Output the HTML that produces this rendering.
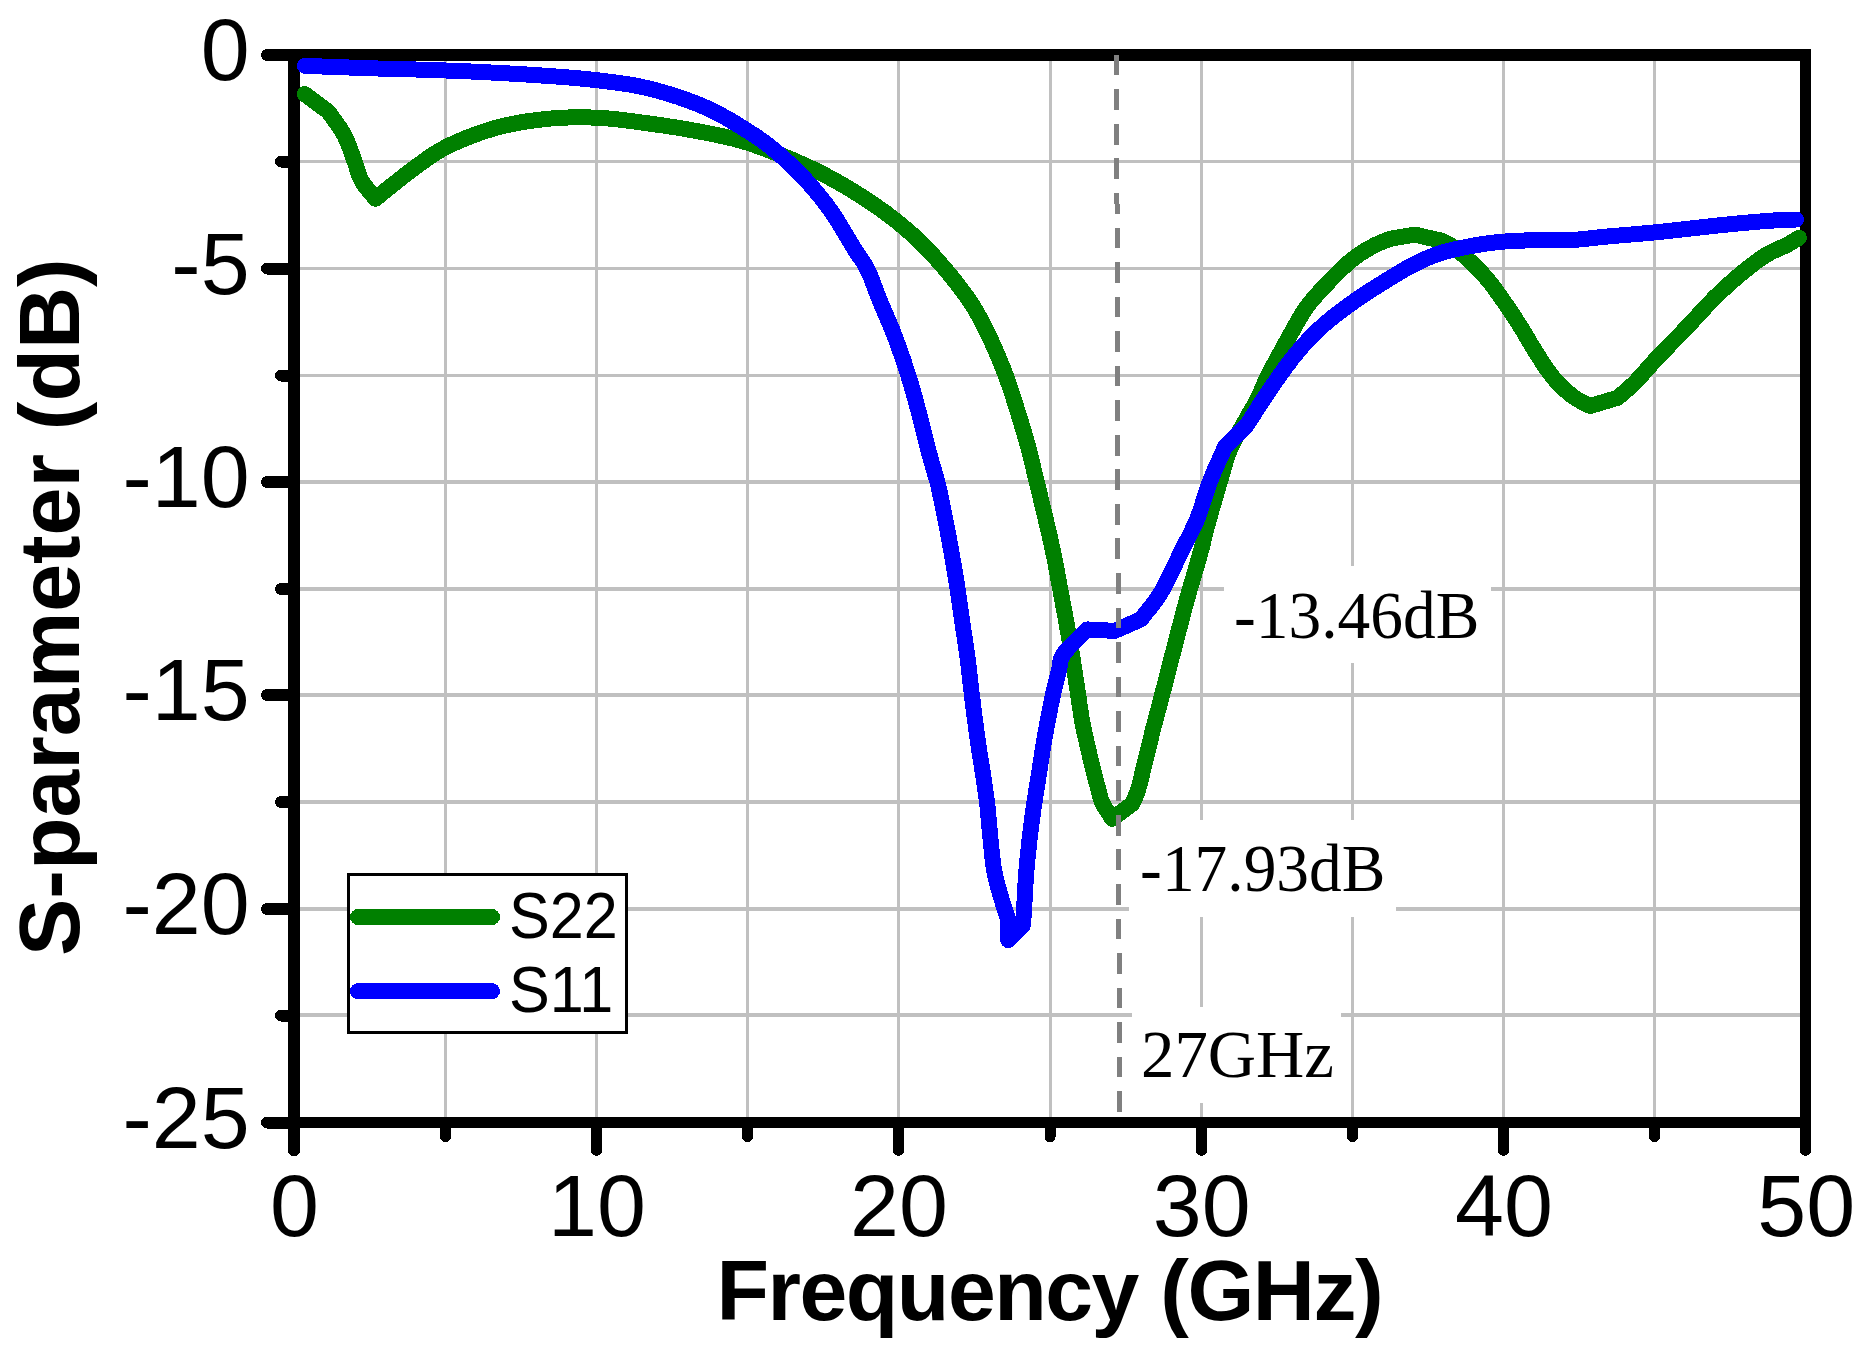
<!DOCTYPE html>
<html lang="en"><head><meta charset="utf-8"><title>S-parameter vs Frequency</title>
<style>html,body{margin:0;padding:0;background:#fff}svg{display:block}.t{font-family:"Liberation Sans",Arial,sans-serif;font-size:88px;fill:#000}.b{font-family:"Liberation Sans",Arial,sans-serif;font-size:86px;font-weight:bold;fill:#000}.s{font-family:"Liberation Serif","Times New Roman",serif;font-size:68px;fill:#000}.l{font-family:"Liberation Sans",Arial,sans-serif;font-size:64px;fill:#000}</style></head><body>
<svg width="1863" height="1353" viewBox="0 0 1863 1353" shape-rendering="crispEdges">
<rect width="1863" height="1353" fill="#fff"/>
<g stroke="#c0c0c0" stroke-width="3" fill="none">
<line x1="445.5" y1="55" x2="445.5" y2="1122"/>
<line x1="596.5" y1="55" x2="596.5" y2="1122"/>
<line x1="747.5" y1="55" x2="747.5" y2="1122"/>
<line x1="898.5" y1="55" x2="898.5" y2="1122"/>
<line x1="1050" y1="55" x2="1050" y2="1122"/>
<line x1="1201.5" y1="55" x2="1201.5" y2="1122"/>
<line x1="1352.5" y1="55" x2="1352.5" y2="1122"/>
<line x1="1503.5" y1="55" x2="1503.5" y2="1122"/>
<line x1="1654.5" y1="55" x2="1654.5" y2="1122"/>
<line x1="294" y1="161.5" x2="1805" y2="161.5" stroke-width="3"/>
<line x1="294" y1="268.5" x2="1805" y2="268.5" stroke-width="3"/>
<line x1="294" y1="375.5" x2="1805" y2="375.5" stroke-width="3"/>
<line x1="294" y1="482" x2="1805" y2="482" stroke-width="4"/>
<line x1="294" y1="589" x2="1805" y2="589" stroke-width="4"/>
<line x1="294" y1="695" x2="1805" y2="695" stroke-width="4"/>
<line x1="294" y1="802" x2="1805" y2="802" stroke-width="4"/>
<line x1="294" y1="909" x2="1805" y2="909" stroke-width="4"/>
<line x1="294" y1="1015" x2="1805" y2="1015" stroke-width="4"/>
</g>
<g fill="#fff">
<rect x="1224" y="566" width="267" height="97.3"/>
<rect x="1129" y="819.5" width="267" height="97.2"/>
<rect x="1132" y="1006.5" width="209" height="96.8"/>
</g>
<rect x="348.5" y="874.4" width="277.8" height="157.9" fill="#fff" stroke="#000" stroke-width="3.3"/>
<g stroke="#000" fill="none">
<line x1="288" y1="55" x2="1811" y2="55" stroke-width="12"/>
<line x1="294" y1="49" x2="294" y2="1128" stroke-width="12"/>
<line x1="1805.5" y1="49" x2="1805.5" y2="1128" stroke-width="11"/>
<line x1="288" y1="1122.5" x2="1811" y2="1122.5" stroke-width="11"/>
</g>
<g stroke="#000" fill="none" stroke-linecap="round">
<line x1="267" y1="55" x2="290" y2="55" stroke-width="12"/>
<line x1="281" y1="161.5" x2="290" y2="161.5" stroke-width="12"/>
<line x1="267" y1="268.5" x2="290" y2="268.5" stroke-width="12"/>
<line x1="281" y1="375.5" x2="290" y2="375.5" stroke-width="12"/>
<line x1="267" y1="482" x2="290" y2="482" stroke-width="12"/>
<line x1="281" y1="589" x2="290" y2="589" stroke-width="12"/>
<line x1="267" y1="695" x2="290" y2="695" stroke-width="12"/>
<line x1="281" y1="802" x2="290" y2="802" stroke-width="12"/>
<line x1="267" y1="909" x2="290" y2="909" stroke-width="12"/>
<line x1="281" y1="1015.5" x2="290" y2="1015.5" stroke-width="12"/>
<line x1="267" y1="1122.5" x2="290" y2="1122.5" stroke-width="12"/>
<line x1="294" y1="1126" x2="294" y2="1150.3" stroke-width="12"/>
<line x1="445.5" y1="1126" x2="445.5" y2="1136.7" stroke-width="11"/>
<line x1="596.5" y1="1126" x2="596.5" y2="1150.3" stroke-width="11"/>
<line x1="747.5" y1="1126" x2="747.5" y2="1136.7" stroke-width="11"/>
<line x1="898.5" y1="1126" x2="898.5" y2="1150.3" stroke-width="11"/>
<line x1="1050" y1="1126" x2="1050" y2="1136.7" stroke-width="11"/>
<line x1="1201.5" y1="1126" x2="1201.5" y2="1150.3" stroke-width="11"/>
<line x1="1352.5" y1="1126" x2="1352.5" y2="1136.7" stroke-width="11"/>
<line x1="1503.5" y1="1126" x2="1503.5" y2="1150.3" stroke-width="11"/>
<line x1="1654.5" y1="1126" x2="1654.5" y2="1136.7" stroke-width="11"/>
<line x1="1805.5" y1="1126" x2="1805.5" y2="1150.3" stroke-width="11"/>
</g>
<g fill="none" stroke-width="16" stroke-linecap="round" stroke-linejoin="round">
<polyline stroke="#008000" points="304.7,94.0 328.3,111.6 331.1,115.6 334.0,119.5 336.8,123.5 339.6,127.5 342.2,131.5 344.6,135.7 346.6,139.9 348.4,144.3 350.1,148.7 351.6,153.1 353.1,157.4 354.6,161.5 355.8,164.9 356.8,168.1 357.8,171.3 358.9,174.5 360.1,177.6 361.6,180.6 363.5,183.8 365.7,186.8 368.1,189.8 370.6,192.8 373.0,195.8 375.4,198.8 378.6,196.2 381.8,193.6 384.9,191.0 388.1,188.4 391.4,185.8 394.8,183.1 398.8,180.0 402.8,176.8 407.0,173.5 411.3,170.3 415.5,167.1 419.8,164.0 423.9,161.1 427.9,158.2 432.0,155.4 436.2,152.7 440.7,150.0 445.6,147.3 452.8,143.8 460.6,140.3 469.0,136.9 477.6,133.7 486.2,130.8 494.7,128.2 502.9,126.0 511.2,124.2 519.5,122.6 527.8,121.2 536.2,120.1 544.6,119.1 553.1,118.3 561.7,117.8 570.2,117.4 578.9,117.3 587.6,117.4 596.5,117.7 606.3,118.3 616.4,119.3 626.6,120.5 636.8,121.8 646.9,123.2 656.6,124.6 665.3,125.8 673.8,127.1 682.2,128.5 690.4,129.9 698.6,131.4 706.5,132.9 713.5,134.3 720.2,135.7 726.7,137.1 733.3,138.7 740.1,140.5 747.2,142.6 756.7,145.8 766.8,149.5 777.2,153.6 787.6,157.8 797.4,162.0 806.3,166.0 812.5,168.9 818.2,171.6 823.7,174.4 828.9,177.2 834.2,180.1 839.6,183.1 845.3,186.4 850.9,189.8 856.6,193.3 862.2,196.8 867.6,200.4 872.9,203.9 877.4,207.0 881.8,210.1 886.0,213.1 890.2,216.3 894.4,219.5 898.7,223.0 903.5,227.0 908.4,231.2 913.3,235.4 918.2,240.0 923.1,244.8 928.2,250.0 935.0,257.4 942.2,265.6 949.5,274.3 956.7,283.2 963.2,291.8 969.0,299.9 972.8,305.7 976.1,311.1 979.1,316.5 982.0,321.9 984.7,327.4 987.6,333.2 990.8,339.8 993.9,346.7 997.0,353.8 1000.0,360.9 1002.9,368.0 1005.6,375.1 1008.1,382.0 1010.5,389.0 1012.8,396.0 1015.0,402.9 1017.1,409.8 1019.2,416.4 1021.0,422.2 1022.7,428.0 1024.4,433.6 1026.0,439.2 1027.5,444.5 1028.9,449.7 1030.0,453.9 1031.0,458.0 1032.0,462.0 1032.9,465.8 1033.7,469.3 1034.5,472.5 1034.9,474.2 1035.3,475.7 1035.6,477.1 1036.0,478.5 1036.3,480.1 1036.8,482.0 1038.0,486.9 1039.4,492.9 1041.0,499.5 1042.7,506.5 1044.4,513.4 1045.9,519.9 1047.2,525.6 1048.5,531.1 1049.8,536.6 1051.0,542.1 1052.2,547.6 1053.4,553.2 1054.6,559.1 1055.8,565.1 1056.9,571.2 1058.0,577.2 1059.1,583.2 1060.2,589.0 1061.2,594.3 1062.1,599.4 1063.1,604.5 1064.0,609.5 1065.0,614.6 1065.9,619.8 1066.9,625.2 1067.8,630.6 1068.8,636.1 1069.8,641.6 1070.7,647.2 1071.7,653.0 1072.8,659.8 1073.9,666.9 1075.0,674.2 1076.1,681.4 1077.2,688.4 1078.2,695.0 1079.0,700.0 1079.6,704.8 1080.3,709.4 1081.0,713.9 1081.7,718.5 1082.6,723.3 1083.7,728.7 1084.8,734.2 1086.1,739.8 1087.4,745.4 1088.7,751.0 1090.0,756.6 1091.4,762.3 1092.8,768.3 1094.3,774.2 1095.8,780.0 1097.2,785.2 1098.4,789.8 1099.0,792.2 1099.5,794.3 1100.0,796.2 1100.5,798.1 1101.2,800.0 1102.0,802.0 1103.3,804.7 1104.9,807.5 1106.7,810.3 1108.6,813.1 1110.4,816.0 1112.2,818.8 1132.6,803.5 1133.5,801.3 1134.4,799.2 1135.3,797.1 1136.2,794.8 1137.1,792.5 1138.0,789.8 1139.4,785.1 1140.8,779.8 1142.1,774.1 1143.5,768.2 1144.9,762.3 1146.3,756.6 1147.7,751.0 1149.1,745.4 1150.5,739.8 1151.8,734.2 1153.2,728.7 1154.6,723.3 1155.8,718.5 1157.1,713.9 1158.3,709.4 1159.5,704.8 1160.8,700.0 1162.1,695.0 1163.8,688.4 1165.6,681.4 1167.5,674.2 1169.3,666.9 1171.1,659.8 1172.9,653.0 1174.4,647.2 1175.8,641.6 1177.3,636.1 1178.7,630.6 1180.1,625.2 1181.5,619.8 1182.9,614.6 1184.2,609.5 1185.6,604.5 1187.0,599.4 1188.4,594.2 1189.9,589.0 1191.6,583.1 1193.4,577.1 1195.2,571.0 1197.0,564.9 1198.7,559.0 1200.3,553.2 1201.6,548.4 1202.7,543.8 1203.8,539.3 1204.9,534.7 1206.1,530.0 1207.4,525.0 1209.3,518.2 1211.3,511.0 1213.5,503.5 1215.7,495.9 1217.8,488.6 1219.9,481.7 1221.5,476.2 1223.0,471.0 1224.4,465.8 1225.9,460.8 1227.6,455.7 1229.6,450.6 1232.2,444.8 1235.3,438.8 1238.5,432.8 1241.8,427.0 1244.9,421.5 1247.7,416.5 1249.4,413.4 1251.1,410.6 1252.6,408.0 1254.1,405.4 1255.7,402.7 1257.2,399.8 1259.0,396.0 1260.8,392.0 1262.6,387.9 1264.4,383.7 1266.2,379.5 1268.2,375.4 1270.4,371.1 1272.7,366.8 1275.0,362.5 1277.4,358.3 1279.7,354.0 1282.0,349.9 1284.0,346.1 1286.0,342.4 1288.0,338.8 1290.0,335.2 1292.0,331.6 1294.0,328.0 1296.0,324.5 1298.0,321.0 1300.0,317.5 1302.1,314.0 1304.3,310.6 1306.6,307.3 1309.1,304.0 1311.7,300.7 1314.4,297.6 1317.2,294.4 1320.1,291.1 1323.3,287.7 1327.7,283.1 1332.4,278.1 1337.5,273.0 1342.6,268.0 1347.6,263.4 1352.4,259.4 1356.0,256.7 1359.5,254.2 1363.0,251.9 1366.4,249.8 1369.8,247.9 1373.2,246.1 1376.1,244.6 1378.9,243.3 1381.8,242.0 1384.6,240.9 1387.3,239.9 1389.8,239.1 1391.6,238.6 1393.3,238.2 1394.9,237.9 1396.5,237.6 1398.2,237.4 1400.0,237.1 1402.4,236.7 1404.9,236.2 1407.6,235.7 1410.2,235.4 1412.9,235.1 1415.4,235.1 1417.7,235.3 1419.9,235.7 1422.1,236.2 1424.3,236.8 1426.6,237.3 1428.8,237.9 1431.2,238.4 1433.6,238.9 1436.0,239.4 1438.4,239.9 1440.8,240.6 1443.2,241.5 1445.7,242.6 1448.1,244.0 1450.6,245.4 1453.0,247.0 1455.3,248.7 1457.7,250.4 1460.2,252.3 1462.6,254.4 1465.0,256.5 1467.4,258.8 1469.7,261.0 1472.1,263.3 1474.5,265.6 1476.9,268.0 1479.3,270.4 1481.7,272.9 1484.1,275.5 1486.5,278.2 1489.3,281.6 1492.2,285.3 1495.0,289.1 1497.9,293.1 1500.7,297.0 1503.5,301.0 1506.3,305.1 1509.2,309.2 1512.0,313.4 1514.7,317.6 1517.4,321.8 1520.1,326.0 1522.6,330.0 1525.0,334.1 1527.4,338.1 1529.8,342.2 1532.1,346.1 1534.5,350.0 1536.8,353.6 1539.1,357.3 1541.3,360.8 1543.6,364.3 1545.8,367.6 1548.0,370.7 1549.7,372.9 1551.3,375.1 1552.9,377.1 1554.4,379.0 1556.1,380.9 1557.7,382.7 1559.3,384.4 1560.8,386.0 1562.4,387.5 1564.0,389.0 1565.7,390.5 1567.3,391.9 1568.8,393.2 1570.4,394.4 1571.9,395.7 1573.5,396.8 1575.2,398.0 1576.9,399.1 1579.0,400.3 1581.2,401.5 1583.4,402.6 1585.7,403.7 1588.0,404.9 1590.3,406.0 1617.7,397.8 1620.5,395.4 1623.3,393.0 1626.1,390.6 1628.9,388.2 1631.7,385.6 1634.5,382.9 1637.7,379.6 1640.9,376.1 1644.1,372.4 1647.4,368.7 1650.9,364.8 1654.5,360.8 1659.3,355.7 1664.4,350.4 1669.8,344.9 1675.2,339.3 1680.7,333.7 1686.1,328.1 1691.6,322.3 1697.1,316.3 1702.6,310.3 1708.1,304.4 1713.7,298.6 1719.4,293.0 1725.0,287.8 1730.8,282.6 1736.6,277.5 1742.3,272.7 1747.7,268.3 1752.7,264.4 1755.7,262.1 1758.6,260.1 1761.2,258.2 1763.9,256.5 1766.5,254.8 1769.3,253.2 1772.1,251.7 1774.9,250.4 1777.8,249.2 1780.6,247.9 1783.4,246.7 1786.0,245.4 1788.3,244.2 1790.4,242.9 1792.5,241.6 1794.6,240.4 1796.7,239.1 1798.8,237.8"/>
<polyline stroke="#0000ff" points="305.0,65.9 317.2,66.3 329.5,66.8 341.8,67.2 354.0,67.7 366.2,68.1 378.2,68.5 389.5,68.8 400.6,69.1 411.7,69.4 422.7,69.7 434.0,70.1 445.6,70.5 458.9,71.0 472.7,71.6 486.7,72.3 500.7,73.0 514.5,73.8 527.9,74.6 539.8,75.4 551.6,76.2 563.2,77.0 574.6,78.0 585.7,79.0 596.5,80.2 605.5,81.3 614.2,82.3 622.7,83.5 631.1,84.8 639.6,86.4 648.2,88.3 657.9,90.8 667.9,93.7 678.0,96.9 687.9,100.4 697.5,104.0 706.5,107.8 713.9,111.3 721.1,115.1 728.1,119.0 734.7,122.9 741.1,126.9 747.2,130.7 751.9,133.7 756.3,136.6 760.4,139.4 764.5,142.4 768.7,145.5 773.0,149.0 778.5,153.6 784.2,158.7 789.9,164.0 795.6,169.6 801.1,175.1 806.3,180.6 810.8,185.6 815.2,190.6 819.3,195.6 823.4,200.7 827.4,206.0 831.3,211.4 835.5,217.7 839.7,224.4 843.8,231.2 847.8,238.0 851.5,244.3 855.0,250.0 857.2,253.4 859.3,256.4 861.2,259.1 863.1,261.9 865.0,264.9 866.8,268.2 869.0,272.9 871.2,278.0 873.2,283.4 875.3,288.9 877.4,294.5 879.5,299.9 881.8,305.4 884.2,310.8 886.5,316.2 888.9,321.8 891.3,327.4 893.6,333.2 896.1,339.9 898.6,346.8 901.1,353.8 903.6,360.9 905.9,368.1 908.2,375.1 910.3,382.0 912.4,389.0 914.4,396.0 916.3,402.9 918.1,409.8 919.9,416.4 921.4,422.2 922.8,428.0 924.2,433.7 925.6,439.2 926.9,444.6 928.2,449.7 929.3,453.9 930.5,458.0 931.6,462.0 932.7,465.8 933.7,469.3 934.6,472.5 935.1,474.2 935.6,475.7 936.0,477.1 936.4,478.5 936.9,480.1 937.4,482.0 938.6,486.9 939.9,492.8 941.3,499.5 942.7,506.5 944.1,513.4 945.4,519.9 946.5,525.6 947.6,531.1 948.6,536.6 949.6,542.1 950.6,547.6 951.6,553.2 952.6,559.1 953.7,565.1 954.7,571.2 955.7,577.2 956.7,583.2 957.6,589.0 958.4,594.3 959.1,599.4 959.8,604.5 960.5,609.5 961.2,614.6 961.9,619.8 962.7,625.2 963.5,630.6 964.4,636.1 965.3,641.6 966.1,647.2 966.9,653.0 967.8,659.7 968.6,666.6 969.4,673.6 970.2,680.7 971.0,687.9 971.9,695.0 972.8,702.3 973.7,709.6 974.6,716.9 975.6,724.4 976.6,732.0 977.7,739.9 979.1,749.8 980.8,760.3 982.5,771.0 984.1,781.7 985.6,792.0 986.9,801.5 987.7,808.4 988.3,815.0 988.9,821.4 989.4,827.6 990.0,833.7 990.6,839.8 991.2,845.5 991.7,851.0 992.3,856.5 992.9,862.0 993.7,867.4 994.7,873.0 996.1,879.2 997.7,885.7 999.6,892.3 1001.4,898.6 1003.1,904.3 1004.6,909.0 1005.3,911.1 1005.9,912.9 1006.4,914.6 1007.0,916.2 1007.5,917.7 1008.1,919.4 1008.1,940.1 1022.9,925.4 1023.1,922.7 1023.3,920.2 1023.5,917.6 1023.7,914.9 1023.9,912.1 1024.1,909.0 1024.4,903.8 1024.7,898.0 1025.0,891.8 1025.4,885.4 1025.8,879.1 1026.2,873.0 1026.7,867.4 1027.2,861.9 1027.7,856.5 1028.3,851.0 1028.9,845.5 1029.5,839.8 1030.3,833.5 1031.1,827.0 1031.9,820.5 1032.8,813.9 1033.7,807.6 1034.6,801.5 1035.3,796.6 1036.1,791.8 1036.8,787.2 1037.6,782.6 1038.3,778.0 1039.1,773.2 1039.9,767.9 1040.7,762.5 1041.6,757.0 1042.4,751.5 1043.3,745.8 1044.3,739.9 1045.6,732.6 1047.0,724.9 1048.5,717.1 1050.0,709.2 1051.5,701.8 1052.9,695.0 1054.0,690.3 1055.1,685.7 1056.2,681.4 1057.2,677.3 1058.2,673.4 1059.1,669.7 1059.6,667.3 1059.9,665.0 1060.1,662.9 1060.5,660.9 1061.2,658.7 1062.2,656.4 1064.9,652.3 1068.7,647.9 1073.2,643.3 1078.0,638.6 1082.7,634.0 1087.2,629.4 1114.6,630.9 1140.9,619.3 1144.1,615.2 1147.3,611.2 1150.6,607.1 1153.8,603.0 1156.9,598.7 1160.0,594.0 1163.6,587.8 1167.1,581.1 1170.6,574.1 1174.0,566.9 1177.3,559.9 1180.5,553.2 1183.4,547.5 1186.2,542.0 1189.0,536.5 1191.7,531.1 1194.3,525.6 1196.8,519.9 1199.2,513.7 1201.4,507.3 1203.4,500.9 1205.5,494.4 1207.6,488.0 1209.9,481.7 1212.3,475.8 1214.7,470.0 1217.3,464.3 1219.8,458.6 1222.4,452.9 1224.9,447.2 1246.5,425.6 1249.3,421.3 1252.1,417.0 1254.8,412.6 1257.6,408.3 1260.4,404.0 1263.2,399.8 1265.9,395.7 1268.6,391.6 1271.4,387.5 1274.1,383.5 1276.9,379.5 1279.8,375.4 1282.9,371.1 1286.0,366.8 1289.2,362.6 1292.4,358.3 1295.8,354.1 1299.3,349.9 1303.0,345.6 1306.9,341.4 1310.9,337.3 1314.9,333.2 1319.1,329.1 1323.4,325.2 1328.0,321.2 1332.7,317.3 1337.6,313.5 1342.5,309.8 1347.5,306.2 1352.4,302.6 1357.2,299.2 1361.9,296.0 1366.7,292.8 1371.6,289.7 1376.5,286.6 1381.5,283.5 1386.9,280.1 1392.5,276.7 1398.2,273.2 1403.9,269.9 1409.4,266.8 1414.8,264.0 1419.1,261.9 1423.2,259.9 1427.2,258.2 1431.2,256.5 1435.4,254.9 1439.8,253.4 1445.0,251.8 1450.5,250.4 1456.1,249.1 1461.8,247.8 1467.5,246.7 1473.0,245.7 1478.1,244.8 1483.1,244.0 1488.1,243.3 1493.2,242.7 1498.3,242.1 1503.5,241.6 1509.3,241.2 1515.4,240.8 1521.4,240.6 1527.6,240.4 1533.6,240.2 1539.6,240.1 1545.2,240.0 1550.9,240.1 1556.4,240.1 1562.0,240.1 1567.5,240.1 1572.9,239.9 1577.9,239.6 1582.7,239.1 1587.5,238.6 1592.4,238.0 1597.4,237.5 1602.9,236.9 1610.7,236.2 1619.1,235.5 1627.9,234.8 1636.9,234.0 1645.8,233.2 1654.5,232.4 1662.6,231.6 1670.7,230.7 1678.7,229.8 1686.7,228.9 1694.7,228.0 1702.8,227.1 1711.2,226.2 1719.7,225.3 1728.3,224.4 1736.8,223.6 1745.0,222.8 1752.7,222.1 1758.9,221.6 1765.0,221.1 1771.0,220.7 1776.6,220.3 1781.7,220.0 1786.0,219.8 1788.0,219.7 1789.8,219.6 1791.4,219.6 1792.9,219.6 1794.4,219.5 1796.0,219.5"/>
<line x1="358" y1="917" x2="492" y2="917" stroke="#008000"/>
<line x1="358" y1="991.1" x2="492" y2="991.1" stroke="#0000ff"/>
</g>
<line x1="1116.6" y1="54.8" x2="1119.5" y2="1117" stroke="#808080" stroke-width="5" stroke-dasharray="20.7 13.85"/>
<g class="t" text-anchor="end">
<text x="249.6" y="80.0">0</text>
<text x="249.6" y="293.5">-5</text>
<text x="249.6" y="507.0">-10</text>
<text x="249.6" y="720.0">-15</text>
<text x="249.6" y="934.0">-20</text>
<text x="249.6" y="1147.5">-25</text>
</g>
<g class="t" text-anchor="middle">
<text x="294.5" y="1236">0</text>
<text x="597" y="1236">10</text>
<text x="899" y="1236">20</text>
<text x="1201.7" y="1236">30</text>
<text x="1504" y="1236">40</text>
<text x="1806.2" y="1236">50</text>
</g>
<text class="b" x="716.5" y="1319.5" letter-spacing="-1.5">Frequency (GHz)</text>
<text class="b" transform="translate(79.2,956) rotate(-90)">S-parameter (dB)</text>
<text class="l" transform="translate(509,938) scale(0.955,1)">S22</text>
<text class="l" transform="translate(509,1012) scale(0.955,1)">S11</text>
<text class="s" transform="translate(1234,638) scale(0.962,1)">-13.46dB</text>
<text class="s" transform="translate(1140.1,890.8) scale(0.962,1)">-17.93dB</text>
<text class="s" transform="translate(1141,1076.8) scale(0.983,1)">27GHz</text>
</svg></body></html>
